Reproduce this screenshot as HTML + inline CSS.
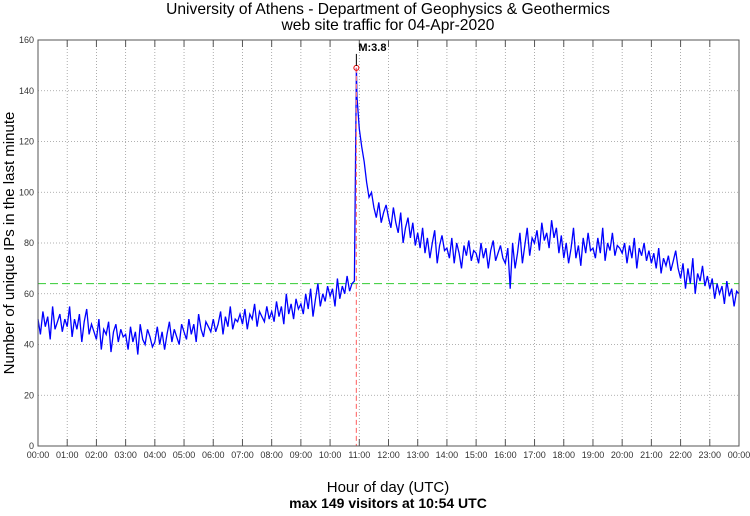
<!DOCTYPE html>
<html><head><meta charset="utf-8"><style>
body{margin:0;background:#fff;}
svg text{font-family:"Liberation Sans",sans-serif;}
</style></head><body>
<svg id="chart" width="750" height="511" viewBox="0 0 750 511" xmlns="http://www.w3.org/2000/svg">
<rect width="750" height="511" fill="#fff"/>
<text x="388" y="14" font-size="15.6" text-anchor="middle">University of Athens - Department of Geophysics &amp; Geothermics</text>
<text x="388" y="30" font-size="15.6" text-anchor="middle">web site traffic for 04-Apr-2020</text>
<text transform="translate(14,243) rotate(-90)" font-size="15" text-anchor="middle">Number of unique IPs in the last minute</text>
<text x="388" y="492" font-size="15" text-anchor="middle">Hour of day (UTC)</text>
<text x="388" y="508" font-size="14" font-weight="bold" text-anchor="middle">max 149 visitors at 10:54 UTC</text>
<g id="grid"></g><g id="series"></g><g id="overlay"></g>
<rect x="38" y="40" width="701" height="406" fill="none" stroke="#555" stroke-width="1"/>
</svg>
<script>
const yTicks=[0,20,40,60,80,100,120,140,160];
const xTickLabels=["00:00","01:00","02:00","03:00","04:00","05:00","06:00","07:00","08:00","09:00","10:00","11:00","12:00","13:00","14:00","15:00","16:00","17:00","18:00","19:00","20:00","21:00","22:00","23:00","00:00"];
const stepMinutes=5;
const values=[
50,44,53,47,51,42,55,46,49,52,45,50,
47,55,43,50,46,52,41,49,54,44,48,45,
42,50,38,46,44,49,37,45,48,41,46,43,
44,38,47,41,45,36,48,42,40,46,43,39,
41,47,40,45,38,44,49,41,46,43,40,48,
45,42,50,44,48,41,52,46,43,49,47,45,
50,45,48,53,44,51,47,55,46,50,49,52,
48,54,46,52,50,56,47,53,51,49,55,50,
53,49,57,51,55,48,60,52,56,50,58,54,
56,52,60,54,62,51,58,64,55,60,57,63,
59,62,55,66,58,63,60,67,61,64,65,138,
125,118,112,104,98,100,94,90,96,88,92,95,
90,86,94,88,84,92,80,86,90,82,88,79,
84,78,86,76,82,74,80,85,72,79,83,77,
78,74,82,72,80,76,70,79,75,81,73,77,
76,72,80,74,78,70,77,81,73,76,79,74,
72,78,62,80,70,76,84,72,79,86,75,82,
80,85,77,88,81,84,78,89,82,86,76,83,
74,80,72,78,86,74,79,71,82,76,84,77,
78,74,82,76,86,73,80,77,84,75,79,78,
76,80,72,79,74,82,70,78,75,80,73,77,
72,76,70,78,68,74,71,75,69,73,77,70,
66,72,62,70,64,74,60,68,65,71,63,67,
62,66,58,64,60,63,56,65,59,62,55,61,
60];
const peakMinute=654, peakValue=149, meanLevel=64;
const X0=38,X1=739,Y0=446,Y1=40;
const xs=m=>X0+(X1-X0)*m/1440;
const ys=v=>Y0-(Y0-Y1)*v/160;
const NS="http://www.w3.org/2000/svg";
function mk(t,a,p){const e=document.createElementNS(NS,t);for(const k in a)e.setAttribute(k,a[k]);p.appendChild(e);return e;}
const grid=document.getElementById('grid');
yTicks.forEach(v=>{
  if(v>0&&v<160){const l=mk('line',{x1:X0,x2:X1,y1:ys(v),y2:ys(v),stroke:'#999','stroke-width':0.8,'stroke-dasharray':'1,2'},grid);
  
  }
  const t=mk('text',{x:34,y:ys(v)+3,'font-size':9,'text-anchor':'end',fill:'#333'},grid);t.textContent=v;
  
  
});
xTickLabels.forEach((s,i)=>{
  const x=xs(i*60);
  if(i>0&&i<24){const l=mk('line',{x1:x,x2:x,y1:Y1,y2:Y0,stroke:'#999','stroke-width':0.8,'stroke-dasharray':'1,2'},grid);
  
  }
  mk('line',{x1:x,x2:x,y1:Y0,y2:Y0-7,stroke:'#555'},grid);
  mk('line',{x1:x,x2:x,y1:Y1,y2:Y1+7,stroke:'#555'},grid);
  const t=mk('text',{x:x,y:458,'font-size':9,'text-anchor':'middle',fill:'#333'},grid);t.textContent=s;
  
  
});
const ov=document.getElementById('overlay');
const g=mk('line',{x1:X0,x2:X1,y1:ys(meanLevel),y2:ys(meanLevel),stroke:'#3c3','stroke-width':1,'stroke-dasharray':'8,4'},document.getElementById('grid'));


const pts=[];
values.forEach((v,i)=>{const m=i*stepMinutes;pts.push([m,v]);if(m<peakMinute&&(i+1)*stepMinutes>peakMinute)pts.push([peakMinute,peakValue]);});
const pl=mk('polyline',{points:pts.map(p=>xs(p[0]).toFixed(1)+','+ys(p[1]).toFixed(1)).join(' '),fill:'none',stroke:'#00f','stroke-width':1.3},document.getElementById('series'));


const px=xs(peakMinute);
const rl=mk('line',{x1:px,x2:px,y1:ys(peakValue),y2:Y0,stroke:'#f77','stroke-width':1.2,'stroke-dasharray':'5,3'},ov);


const c=mk('circle',{cx:px,cy:ys(peakValue),r:2.5,fill:'none',stroke:'#e00','stroke-width':1},ov);


mk('line',{x1:px,x2:px,y1:ys(peakValue)-14,y2:ys(peakValue)-2,stroke:'#000','stroke-width':1},ov);
const lt=mk('text',{x:px+2,y:ys(peakValue)-17,'font-size':11,'font-weight':'bold'},ov);lt.textContent='M:3.8';


</script>
</body></html>
